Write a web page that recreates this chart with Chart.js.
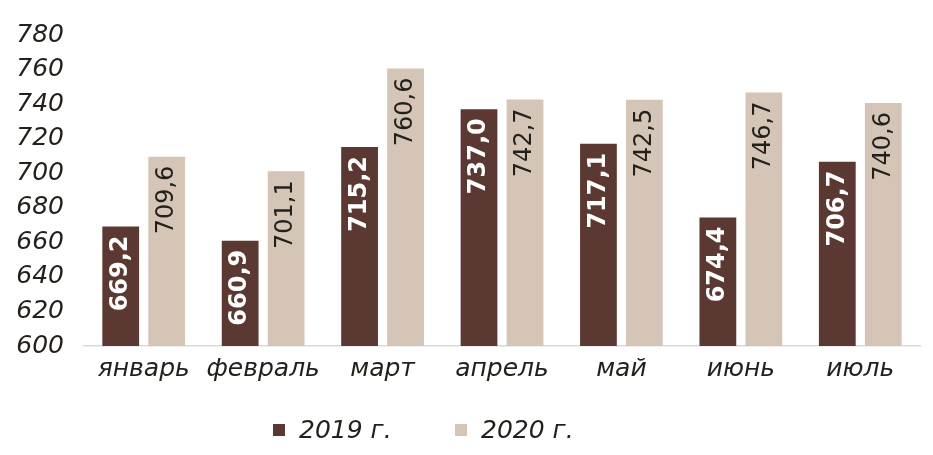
<!DOCTYPE html>
<html>
<head>
<meta charset="utf-8">
<script src="https://cdn.jsdelivr.net/npm/chart.js@4.4.0/dist/chart.umd.min.js"></script>
<style>
    html, body { margin: 0; padding: 0; background: #fff; }
    #wrap { width: 933px; height: 455px; }
</style>
</head>
<body>
<div id="wrap"><canvas id="myChart"></canvas></div>
<script>
const months = ['январь', 'февраль', 'март', 'апрель', 'май', 'июнь', 'июль'];
const values2019 = [669.2, 660.9, 715.2, 737.0, 717.1, 674.4, 706.7];
const values2020 = [709.6, 701.1, 760.6, 742.7, 742.5, 746.7, 740.6];
const seriesNames = ['2019 г.', '2020 г.'];
const yTicks = [600, 620, 640, 660, 680, 700, 720, 740, 760, 780];

const textColor = '#231f1a';
const darkColor = '#5c3833';
const lightColor = '#d5c5b6';

function fmt(v) {
    return v.toFixed(1).replace('.', ',');
}

// rotated value labels inside the top of each bar
const barLabels = {
    id: 'barLabels',
    afterDatasetsDraw(chart) {
        const ctx = chart.ctx;
        chart.data.datasets.forEach((ds, i) => {
            const meta = chart.getDatasetMeta(i);
            meta.data.forEach((bar, j) => {
                ctx.save();
                ctx.translate(bar.x, bar.y + 9);
                ctx.rotate(-Math.PI / 2);
                ctx.textAlign = 'right';
                ctx.textBaseline = 'middle';
                if (i === 0) {
                    ctx.font = 'bold 24px "DejaVu Sans"';
                    ctx.fillStyle = '#ffffff';
                } else {
                    ctx.font = '24px "DejaVu Sans"';
                    ctx.fillStyle = textColor;
                }
                ctx.fillText(fmt(ds.data[j]), 0, 0);
                ctx.restore();
            });
        });
    }
};

// legend below the chart
const bottomLegend = {
    id: 'bottomLegend',
    afterDraw(chart) {
        const ctx = chart.ctx;
        const starts = [273, 455];
        const y = 430;
        ctx.save();
        chart.data.datasets.forEach((ds, i) => {
            ctx.fillStyle = ds.backgroundColor;
            ctx.fillRect(starts[i], y - 6, 12, 12);
            ctx.font = 'italic 25px "DejaVu Sans"';
            ctx.fillStyle = textColor;
            ctx.textAlign = 'left';
            ctx.textBaseline = 'middle';
            ctx.fillText(ds.label, starts[i] + 26, y + 1);
        });
        ctx.restore();
    }
};

const ctx = document.getElementById('myChart').getContext('2d');
const myChart = new Chart(ctx, {
    type: 'bar',
    data: {
        labels: months,
        datasets: [
            {
                label: seriesNames[0],
                data: values2019,
                backgroundColor: darkColor,
                categoryPercentage: 0.77,
                barPercentage: 0.8
            },
            {
                label: seriesNames[1],
                data: values2020,
                backgroundColor: lightColor,
                categoryPercentage: 0.77,
                barPercentage: 0.8
            }
        ]
    },
    options: {
        responsive: true,
        maintainAspectRatio: false,
        animation: false,
        layout: {
            padding: { top: 27, right: 13, bottom: 0, left: 0 }
        },
        plugins: {
            legend: { display: false },
            tooltip: { enabled: false }
        },
        scales: {
            x: {
                grid: { display: true, color: 'transparent', drawTicks: false },
                border: { display: true, color: '#d9d9d9', width: 1.5 },
                ticks: {
                    color: textColor,
                    padding: 8,
                    font: { family: 'DejaVu Sans', size: 25, style: 'italic' }
                },
                afterFit(scale) { scale.height = 109; }
            },
            y: {
                min: yTicks[0],
                max: yTicks[yTicks.length - 1],
                grid: { display: false, drawTicks: false },
                border: { display: false },
                afterBuildTicks(scale) {
                    scale.ticks = yTicks.map(v => ({ value: v }));
                },
                ticks: {
                    color: textColor,
                    padding: 20,
                    font: { family: 'DejaVu Sans', size: 25, style: 'italic' }
                },
                afterFit(scale) { scale.width = 84; }
            }
        }
    },
    plugins: [barLabels, bottomLegend]
});
</script>
</body>
</html>
